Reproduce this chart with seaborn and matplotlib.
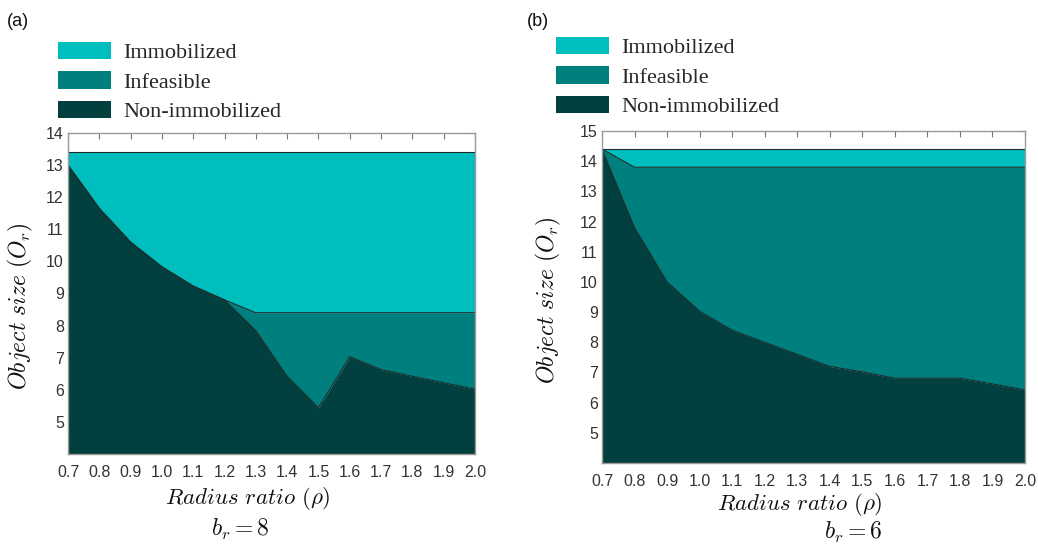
import matplotlib
matplotlib.use("Agg")
import matplotlib.pyplot as plt
import seaborn as sns
import pandas as pd
from matplotlib.patches import Patch

# ---------------- data ----------------
rho = [0.7, 0.8, 0.9, 1.0, 1.1, 1.2, 1.3, 1.4, 1.5, 1.6, 1.7, 1.8, 1.9, 2.0]
rho_ticklabels = ["0.7", "0.8", "0.9", "1.0", "1.1", "1.2", "1.3", "1.4",
                  "1.5", "1.6", "1.7", "1.8", "1.9", "2.0"]
categories = ["Immobilized", "Infeasible", "Non-immobilized"]

# panel (a), b_r = 8 : upper boundary of each region
a_nonimmob = [13.0, 11.65, 10.6, 9.83, 9.23, 8.8, 7.84, 6.42, 5.44, 7.03, 6.63, 6.42, 6.22, 6.02]
a_infeasible = [13.0, 11.65, 10.6, 9.83, 9.23, 8.8, 8.4, 8.4, 8.4, 8.4, 8.4, 8.4, 8.4, 8.4]
a_immob = [13.4, 13.4, 13.4, 13.4, 13.4, 13.4, 13.4, 13.4, 13.4, 13.4, 13.4, 13.4, 13.4, 13.4]

# panel (b), b_r = 6
b_nonimmob = [14.4, 11.8, 10.0, 9.03, 8.4, 8.0, 7.6, 7.2, 7.02, 6.81, 6.81, 6.81, 6.62, 6.42]
b_infeasible = [14.4, 13.8, 13.8, 13.8, 13.8, 13.8, 13.8, 13.8, 13.8, 13.8, 13.8, 13.8, 13.8, 13.8]
b_immob = [14.4, 14.4, 14.4, 14.4, 14.4, 14.4, 14.4, 14.4, 14.4, 14.4, 14.4, 14.4, 14.4, 14.4]

a_yticks = [5, 6, 7, 8, 9, 10, 11, 12, 13, 14]
b_yticks = [5, 6, 7, 8, 9, 10, 11, 12, 13, 14, 15]

# ---------------- style ----------------
sns.set_theme(style="white")
plt.rcParams["font.family"] = ["Liberation Sans", "DejaVu Sans"]
plt.rcParams["mathtext.fontset"] = "cm"

C_IMM = "#00BEBE"
C_INF = "#007F7F"
C_NON = "#023F3F"
C_EDGE = "#1c2b2b"

fig = plt.figure(figsize=(10.38, 5.47), dpi=100)
W, H = 1038.0, 547.0

def fx(px):
    return px / W

def fy(py):
    return 1 - py / H

def panel(rect, non, inf, imm, ylim, yticks, ylabel_pos, xlabel_pos, br_pos, br_text,
          tag, tag_pos, leg_pos):
    ax = fig.add_axes(rect)
    ymin = ylim[0]
    ax.fill_between(rho, ymin, non, color=C_NON, lw=0)
    ax.fill_between(rho, non, inf, color=C_INF, lw=0)
    ax.fill_between(rho, inf, imm, color=C_IMM, lw=0)
    df = pd.DataFrame({"rho": rho * 3,
                       "value": list(non) + list(inf) + list(imm),
                       "kind": ["non"] * len(rho) + ["inf"] * len(rho) + ["imm"] * len(rho)})
    sns.lineplot(data=df, x="rho", y="value", units="kind", estimator=None,
                 color=C_EDGE, lw=0.8, ax=ax, legend=False)
    ax.set_xlim(rho[0], rho[-1])
    ax.set_ylim(*ylim)
    ax.set_xticks(rho)
    ax.set_xticklabels(rho_ticklabels)
    ax.set_yticks(yticks)
    ax.set_xlabel("")
    ax.set_ylabel("")
    ax.tick_params(direction="in", top=True, right=True, length=4, width=0.8,
                   color="#777777", labelsize=11.5, labelcolor="#333333")
    ax.tick_params(axis="x", pad=8)
    ax.tick_params(axis="y", pad=3)
    for s in ax.spines.values():
        s.set_color("#9a9a9a")
        s.set_linewidth(1.0)
        s.set_visible(True)
    fig.text(fx(ylabel_pos[0]), fy(ylabel_pos[1]), r"$Object\ size\ (O_r)$",
             rotation=90, ha="center", va="center", fontsize=17, color="#111111")
    fig.text(fx(xlabel_pos[0]), fy(xlabel_pos[1]), r"$Radius\ ratio\ (\rho)$",
             ha="center", va="center", fontsize=16.5, color="#111111")
    fig.text(fx(br_pos[0]), fy(br_pos[1]), br_text,
             ha="center", va="center", fontsize=17, color="#111111")
    fig.text(fx(tag_pos[0]), fy(tag_pos[1]), tag, ha="left", va="center",
             fontsize=13, color="#111111")
    handles = [Patch(facecolor=C_IMM, edgecolor="none", label=categories[0]),
               Patch(facecolor=C_INF, edgecolor="none", label=categories[1]),
               Patch(facecolor=C_NON, edgecolor="none", label=categories[2])]
    ax.legend(handles=handles, loc="upper left",
              bbox_to_anchor=(fx(leg_pos[0]), fy(leg_pos[1])),
              bbox_transform=fig.transFigure, frameon=False,
              prop={"family": "Liberation Serif", "size": 16},
              handlelength=2.4, handleheight=0.82, labelspacing=0.36,
              handletextpad=0.55, borderpad=0, borderaxespad=0)
    return ax

panel([fx(68), fy(454), fx(475) - fx(68), fy(133) - fy(454)],
      a_nonimmob, a_infeasible, a_immob, (4, 14), a_yticks,
      (20, 306), (248, 498), (240, 529), r"$b_r = 8$",
      "(a)", (7, 22), (58, 42))

panel([fx(602), fy(463), fx(1025) - fx(602), fy(131) - fy(463)],
      b_nonimmob, b_infeasible, b_immob, (4, 15), b_yticks,
      (548, 300), (800, 505), (853, 532), r"$b_r = 6$",
      "(b)", (527, 22), (556, 37))

fig.savefig("out.png", dpi=100)
